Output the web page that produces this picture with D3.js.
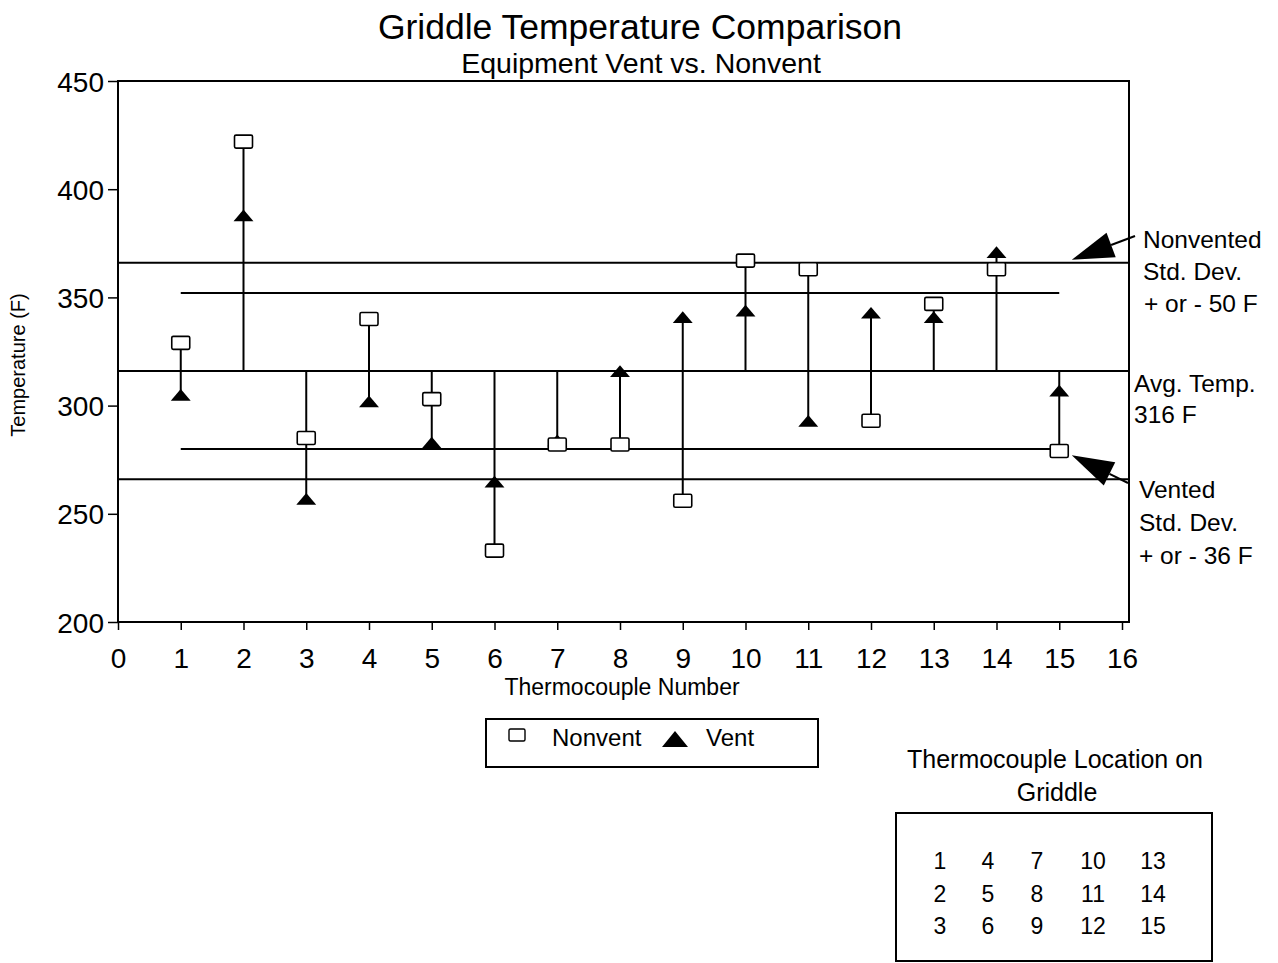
<!DOCTYPE html>
<html>
<head>
<meta charset="utf-8">
<script src="https://cdn.jsdelivr.net/npm/d3@7"></script>
<style>
    body { margin: 0; background: #fff; }
    text { font-family: "Liberation Sans", Arial, sans-serif; fill: #000; }
</style>
</head>
<body>
<div id="chart"></div>
<script>
// thermocouple readings (deg F)
const thermocouples = [1, 2, 3, 4, 5, 6, 7, 8, 9, 10, 11, 12, 13, 14, 15]
const nonvent = [329, 422, 285, 340, 303, 233, 282, 282, 256, 367, 363, 293, 347, 363, 279]
const vent = [304, 387, 256, 301, 282, 264, 283, 315, 340, 343, 292, 342, 340, 370, 306]
const avgTemp = 316
const nonventSD = 50
const ventSD = 36

const xTicks = d3.range(0, 17)
const yTicks = [200, 250, 300, 350, 400, 450]

const locationGrid = [
    ["1", "4", "7", "10", "13"],
    ["2", "5", "8", "11", "14"],
    ["3", "6", "9", "12", "15"]
]

function init() {
    let svg = d3.select("#chart")
        .append("svg")
        .attr("width", 1278)
        .attr("height", 963)

    let x = d3.scaleLinear().domain([0, 16]).range([118, 1122])
    let y = d3.scaleLinear().domain([200, 450]).range([622, 81])
    let right = 1129

    // titles
    svg.append("text").attr("x", 640).attr("y", 39)
        .attr("text-anchor", "middle").style("font-size", "35.5px")
        .text("Griddle Temperature Comparison")
    svg.append("text").attr("x", 641).attr("y", 73)
        .attr("text-anchor", "middle").style("font-size", "28.5px")
        .text("Equipment Vent vs. Nonvent")

    // frame
    svg.append("rect")
        .attr("x", x(0)).attr("y", y(450))
        .attr("width", right - x(0)).attr("height", y(200) - y(450))
        .attr("fill", "none").attr("stroke", "#000").attr("stroke-width", 2)

    // axes
    let yAxis = d3.axisLeft(y).tickValues(yTicks).tickSize(10).tickPadding(4)
    svg.append("g").attr("transform", "translate(" + x(0) + ",0)").call(yAxis)
        .call(g => g.select(".domain").remove())
        .call(g => g.selectAll("line").attr("stroke-width", 1.5))
        .call(g => g.selectAll("text").style("font-size", "28px").attr("dy", "0.36em"))

    let xAxis = d3.axisBottom(x).tickValues(xTicks).tickSize(8).tickPadding(16)
    svg.append("g").attr("transform", "translate(0," + y(200) + ")").call(xAxis)
        .call(g => g.select(".domain").remove())
        .call(g => g.selectAll("line").attr("stroke-width", 1.5))
        .call(g => g.selectAll("text").style("font-size", "28px").attr("dy", "0.78em"))

    svg.append("text").attr("x", 622).attr("y", 695)
        .attr("text-anchor", "middle").style("font-size", "23px")
        .text("Thermocouple Number")
    svg.append("text")
        .attr("transform", "translate(25,365) rotate(-90)")
        .attr("text-anchor", "middle").style("font-size", "20px")
        .text("Temperature (F)")

    // reference lines
    let refs = [
        { v: avgTemp + nonventSD, x0: x(0), x1: right },
        { v: avgTemp, x0: x(0), x1: right },
        { v: avgTemp - nonventSD, x0: x(0), x1: right },
        { v: avgTemp + ventSD, x0: x(1), x1: x(15) },
        { v: avgTemp - ventSD, x0: x(1), x1: x(15) }
    ]
    svg.selectAll("line.ref")
        .data(refs)
        .enter()
        .append("line")
        .attr("x1", d => d.x0).attr("x2", d => d.x1)
        .attr("y1", d => y(d.v)).attr("y2", d => y(d.v))
        .attr("stroke", "#000").attr("stroke-width", 2)
        .classed("ref", true)

    // high-low lines including the average
    svg.selectAll("line.hl")
        .data(thermocouples)
        .enter()
        .append("line")
        .attr("x1", d => x(d)).attr("x2", d => x(d))
        .attr("y1", (d, i) => y(Math.max(nonvent[i], vent[i], avgTemp)))
        .attr("y2", (d, i) => y(Math.min(nonvent[i], vent[i], avgTemp)))
        .attr("stroke", "#000").attr("stroke-width", 2)
        .classed("hl", true)

    let tri = d3.symbol().type(d3.symbolTriangle).size(110)

    svg.selectAll("path.vent")
        .data(thermocouples)
        .enter()
        .append("path")
        .attr("d", tri)
        .attr("transform", (d, i) => "translate(" + x(d) + "," + y(vent[i]) + ") scale(1.25,0.85)")
        .attr("fill", "#000")
        .classed("vent", true)

    svg.selectAll("rect.nonvent")
        .data(thermocouples)
        .enter()
        .append("rect")
        .attr("x", d => x(d) - 9)
        .attr("y", (d, i) => y(nonvent[i]) - 6.5)
        .attr("width", 18).attr("height", 13).attr("rx", 1.5)
        .attr("fill", "#fff").attr("stroke", "#000").attr("stroke-width", 1.6)
        .classed("nonvent", true)

    // right-side notes
    let notes = [
        { x: 1143, y: 248, t: "Nonvented" },
        { x: 1143, y: 280, t: "Std. Dev." },
        { x: 1144, y: 312, t: "+ or - 50 F" },
        { x: 1134, y: 392, t: "Avg. Temp." },
        { x: 1134, y: 423, t: "316 F" },
        { x: 1139, y: 498, t: "Vented" },
        { x: 1139, y: 531, t: "Std. Dev." },
        { x: 1139, y: 564, t: "+ or - 36 F" }
    ]
    svg.selectAll("text.note")
        .data(notes)
        .enter()
        .append("text")
        .attr("x", d => d.x).attr("y", d => d.y)
        .style("font-size", "24.5px")
        .text(d => d.t)
        .classed("note", true)

    drawArrow(svg, 1135, 236, x(15.2), y(avgTemp + nonventSD) - 3)
    drawArrow(svg, 1128, 483, x(15.2), y(avgTemp - ventSD - 3))

    // legend
    svg.append("rect").attr("x", 486).attr("y", 719).attr("width", 332).attr("height", 48)
        .attr("fill", "none").attr("stroke", "#000").attr("stroke-width", 2)
    svg.append("rect").attr("x", 509).attr("y", 729).attr("width", 16).attr("height", 12).attr("rx", 1.5)
        .attr("fill", "#fff").attr("stroke", "#000").attr("stroke-width", 1.4)
    svg.append("text").attr("x", 552).attr("y", 746).style("font-size", "24px").text("Nonvent")
    svg.append("path").attr("d", "M662,747L688,747L675,731Z").attr("fill", "#000")
    svg.append("text").attr("x", 706).attr("y", 746).style("font-size", "24px").text("Vent")

    // location inset
    svg.append("text").attr("x", 1055).attr("y", 768)
        .attr("text-anchor", "middle").style("font-size", "25px")
        .text("Thermocouple Location on")
    svg.append("text").attr("x", 1057).attr("y", 801)
        .attr("text-anchor", "middle").style("font-size", "25px")
        .text("Griddle")
    svg.append("rect").attr("x", 896).attr("y", 813).attr("width", 316).attr("height", 148)
        .attr("fill", "none").attr("stroke", "#000").attr("stroke-width", 2)

    let colX = [940, 988, 1037, 1093, 1153]
    let rowY = [869, 902, 934]
    locationGrid.forEach(function(row, r) {
        svg.selectAll("text.loc" + r)
            .data(row)
            .enter()
            .append("text")
            .attr("x", (d, c) => colX[c]).attr("y", rowY[r])
            .attr("text-anchor", "middle")
            .style("font-size", "23px")
            .text(d => d)
            .classed("loc" + r, true)
    })
}

function drawArrow(svg, x0, y0, x1, y1) {
    let a = Math.atan2(y1 - y0, x1 - x0)
    let len = 42, half = 13
    let bx = x1 - len * Math.cos(a), by = y1 - len * Math.sin(a)
    svg.append("line")
        .attr("x1", x0).attr("y1", y0).attr("x2", bx).attr("y2", by)
        .attr("stroke", "#000").attr("stroke-width", 2)
    let pts = [
        [x1, y1],
        [bx + half * Math.sin(a), by - half * Math.cos(a)],
        [bx - half * Math.sin(a), by + half * Math.cos(a)]
    ]
    svg.append("path")
        .attr("d", "M" + pts.map(p => p.join(",")).join("L") + "Z")
        .attr("fill", "#000")
}

window.onload = init;
</script>
</body>
</html>
